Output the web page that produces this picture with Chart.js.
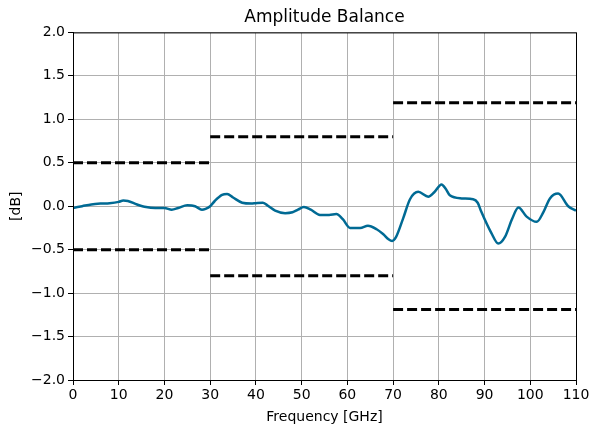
<!DOCTYPE html>
<html lang="en">
  <head>
    <meta charset="UTF-8" />
    <title>Amplitude Balance</title>
    <script src="https://cdn.jsdelivr.net/npm/chart.js"></script>
    <style>
      html, body { margin: 0; padding: 0; background: #fff; }
      #wrap { width: 592px; height: 433px; }
    </style>
  </head>
  <body>
    <div id="wrap"><canvas id="chart"></canvas></div>
    <script>
      // measured balance curve (GHz, dB)
      const freq = [0, 2, 4, 6, 8, 10, 11, 12, 14, 16, 18, 20, 21.6, 23, 25, 26.7, 28.2, 29, 30, 31,
        32.6, 33.7, 35, 37, 39, 40, 41.5, 42.5, 44.2, 46.4, 48, 49.2, 50.5, 52, 54, 56, 57.6, 59,
        60.6, 62.8, 64.5, 66.4, 67.8, 69, 69.8, 70.6, 72.2, 73.7, 75.5, 77.7, 79, 80.6, 81.5, 82.4,
        85, 87.5, 88.5, 89.3, 91.5, 93, 94.5, 96, 97.4, 99.2, 101.4, 102.9, 104.3, 106.1, 108.3, 110];
      const balance = [-0.02, 0.0, 0.02, 0.03, 0.035, 0.05, 0.065, 0.06, 0.02, -0.01, -0.02, -0.02, -0.04, -0.02, 0.01, 0.0, -0.04, -0.03, 0.0, 0.06,
        0.13, 0.14, 0.1, 0.04, 0.03, 0.035, 0.04, 0.01, -0.05, -0.08, -0.07, -0.04, -0.01, -0.04, -0.1, -0.1, -0.09, -0.15,
        -0.25, -0.25, -0.225, -0.265, -0.32, -0.38, -0.4, -0.36, -0.14, 0.08, 0.165, 0.11, 0.16, 0.25, 0.2, 0.125,
        0.09, 0.08, 0.04, -0.065, -0.31, -0.43, -0.35, -0.15, -0.015, -0.12, -0.18, -0.065, 0.09, 0.145, 0.0, -0.05];

      // spec limits per band
      const bandStart = [0, 30, 70];
      const bandEnd = [30, 70, 110];
      const upperLimit = [0.5, 0.8, 1.19];
      const lowerLimit = [-0.5, -0.8, -1.19];

      const xTicks = [0, 10, 20, 30, 40, 50, 60, 70, 80, 90, 100, 110];
      const yTicks = [-2.0, -1.5, -1.0, -0.5, 0.0, 0.5, 1.0, 1.5, 2.0];

      const FONT = "'DejaVu Sans', sans-serif";

      const limitSets = [];
      bandStart.forEach((s, i) => {
        [upperLimit[i], lowerLimit[i]].forEach((v) => {
          limitSets.push({
            data: [{ x: s, y: v }, { x: bandEnd[i], y: v }],
            borderColor: "#000",
            borderWidth: 3,
            borderDash: [10, 4],
            pointRadius: 0,
            fill: false,
          });
        });
      });

      // box around the plot area (matplotlib style)
      const frame = {
        id: "frame",
        afterDraw(chart) {
          const { ctx, chartArea: a } = chart;
          ctx.save();
          ctx.strokeStyle = "#000";
          ctx.lineWidth = 1;
          ctx.strokeRect(a.left + 0.5, a.top + 0.5, a.right - a.left, a.bottom - a.top);
          ctx.restore();
        },
      };

      const minus = (v) => String(v).replace("-", "\u2212");

      new Chart(document.getElementById("chart"), {
        type: "line",
        data: {
          datasets: [
            {
              data: freq.map((f, i) => ({ x: f, y: balance[i] })),
              borderColor: "#006a94",
              borderWidth: 2.5,
              pointRadius: 0,
              cubicInterpolationMode: "monotone",
              fill: false,
            },
            ...limitSets,
          ],
        },
        options: {
          responsive: true,
          maintainAspectRatio: false,
          animation: false,
          layout: { padding: { top: 1, right: 16, left: 8, bottom: 7 } },
          plugins: {
            legend: { display: false },
            tooltip: { enabled: false },
            title: {
              display: true,
              fullSize: false,
              text: "Amplitude Balance",
              color: "#000",
              font: { family: FONT, size: 17, weight: "normal" },
              padding: { top: 6, bottom: 5 },
            },
          },
          scales: {
            x: {
              type: "linear",
              min: 0,
              max: 110,
              afterBuildTicks: (s) => { s.ticks = xTicks.map((v) => ({ value: v })); },
              afterFit: (s) => { s.height = 46; },
              grid: { color: "#b0b0b0", tickColor: "#000", tickLength: 5 },
              border: { color: "#000" },
              ticks: {
                color: "#000",
                font: { family: FONT, size: 14 },
                padding: 2,
                maxRotation: 0,
                callback: (v) => String(v),
              },
              title: {
                display: true,
                text: "Frequency [GHz]",
                color: "#000",
                font: { family: FONT, size: 14 },
                padding: { top: 0, bottom: 0 },
              },
            },
            y: {
              min: -2,
              max: 2,
              afterBuildTicks: (s) => { s.ticks = yTicks.map((v) => ({ value: v })); },
              afterFit: (s) => { s.width = 65; },
              grid: { color: "#b0b0b0", tickColor: "#000", tickLength: 5 },
              border: { color: "#000" },
              ticks: {
                color: "#000",
                font: { family: FONT, size: 14 },
                padding: 3,
                callback: (v) => minus(v.toFixed(1)),
              },
              title: {
                display: true,
                text: "[dB]",
                color: "#000",
                font: { family: FONT, size: 14 },
                padding: { top: 0, bottom: 4 },
              },
            },
          },
        },
        plugins: [frame],
      });
    </script>
  </body>
</html>
